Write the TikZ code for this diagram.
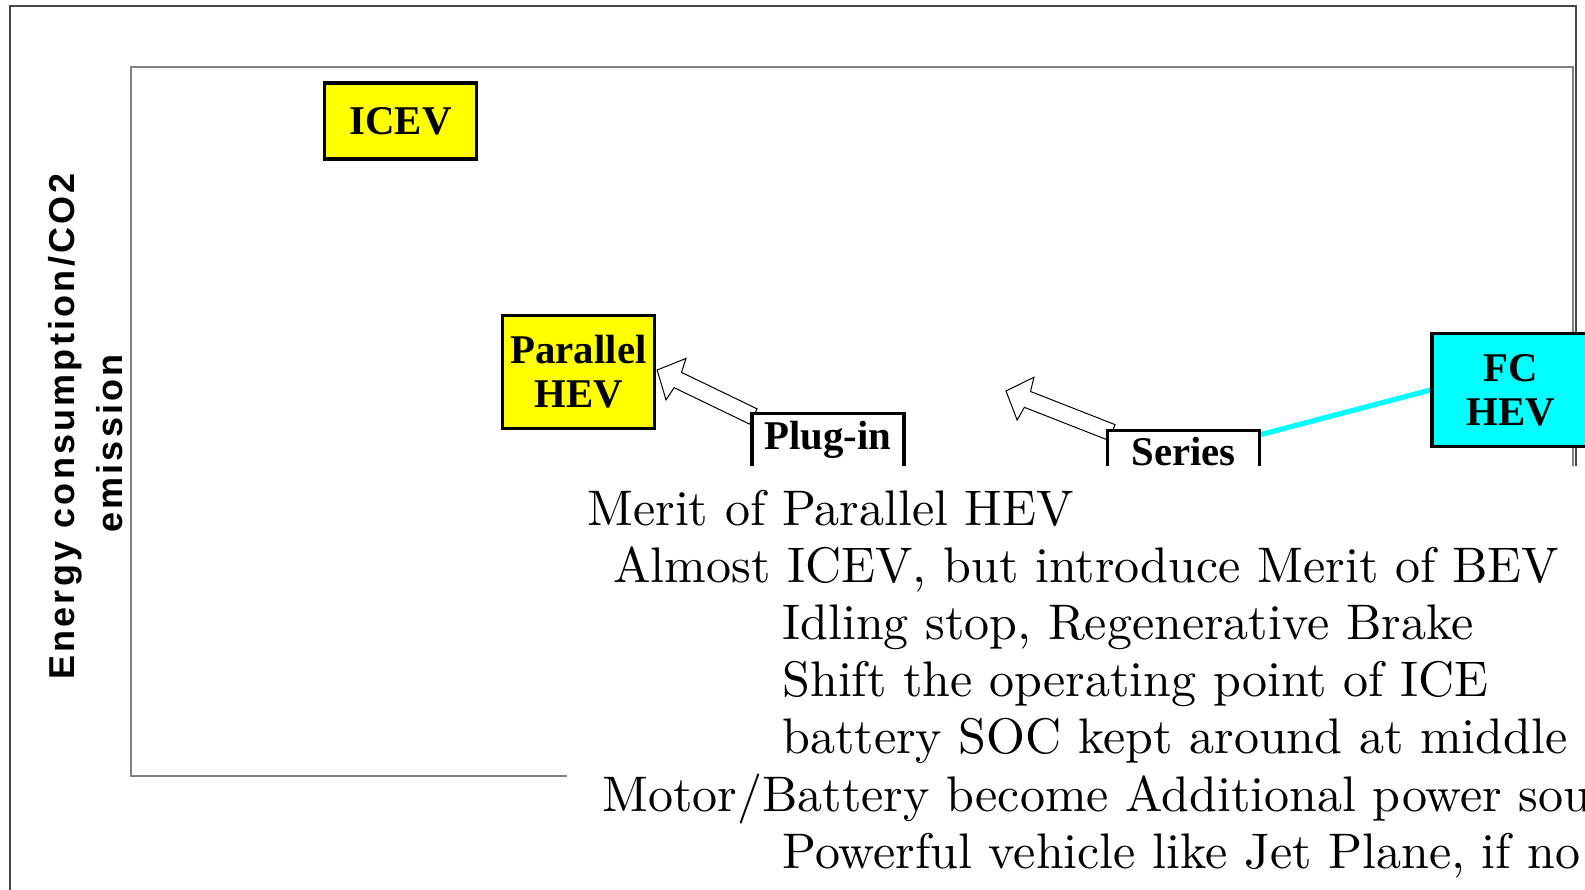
\documentclass[tikz,border=0pt]{standalone}
\usepackage{fontspec}
\usetikzlibrary{calc}
\newfontfamily\boxfont{Liberation Serif}
\newfontfamily\labfont{Liberation Sans}[LetterSpace=9]
\newfontfamily\bodyfont{lmroman10-regular.otf}
\definecolor{hevyellow}{RGB}{255,255,0}
\definecolor{hevcyan}{RGB}{0,255,255}
\definecolor{framegray}{RGB}{70,70,70}
\definecolor{plotgray}{RGB}{128,128,128}
\pgfdeclarelayer{bottom}
\pgfdeclarelayer{background}
\pgfsetlayers{bottom,background,main}
\tikzset{
  vbox/.style={draw=black, line width=1.6pt, minimum width=76pt, inner xsep=0pt,
    align=center, font=\boxfont\bfseries\fontsize{20.4}{22}\selectfont},
  openbox/.style={vbox, fill=white, anchor=north, inner ysep=4pt},
  blockarr/.style={draw=black, line width=0.5pt, fill=white, line join=miter},
  axislabel/.style={rotate=90, anchor=base, inner sep=0pt,
    font=\labfont\bfseries\fontsize{18}{20}\selectfont},
  bodyline/.style={anchor=base west, inner sep=0pt, font=\bodyfont\fontsize{25}{29}\selectfont},
  linkline/.style={draw=hevcyan, line width=2.6pt}
}
\newcommand{\blockarrow}[2]{%
  \draw[blockarr] (#1)
    -- ($($(#1)!10.5pt!(#2)$)!11.5pt!90:(#2)$)
    -- ($($(#1)!11.5pt!(#2)$)!4.25pt!90:(#2)$)
    -- ($(#2)!4.25pt!-90:(#1)$)
    -- ($(#2)!4.25pt!90:(#1)$)
    -- ($($(#1)!11.5pt!(#2)$)!4.25pt!-90:(#2)$)
    -- ($($(#1)!10.5pt!(#2)$)!11.5pt!-90:(#2)$)
    -- cycle;}
\begin{document}
\begin{tikzpicture}[x=0.5pt, y=-0.5pt]
\useasboundingbox (0,0) rectangle (1585,889);
\clip (0,0) rectangle (1585,889);
% frames
\begin{pgfonlayer}{bottom}
\draw[framegray, line width=0.75pt] (10,6) rectangle (1576,960);
\draw[plotgray, line width=1pt] (131,67) rectangle (1573,776);
\end{pgfonlayer}
% boxes
\path (400.5,121) node[vbox, fill=hevyellow, minimum height=38pt] (icev) {ICEV};
\path (578.5,372) node[vbox, fill=hevyellow, minimum height=56.5pt] (par) {Parallel\\HEV};
\path (828,411.5) node[openbox] (plug) {Plug-in\\HEV};
\path (1183.5,428.5) node[openbox, inner ysep=3.5pt] (ser) {Series\\HEV};
\path (1511,390) node[vbox, fill=hevcyan, minimum width=79pt, minimum height=56.5pt] (fc) {FC\\HEV};
% connectors (behind boxes)
\coordinate (a1tip) at ($(par.east)+(1,-2)$);
\coordinate (a1tail) at ($(plug.north west)+(3,5)$);
\coordinate (a2tip) at (1006,391);
\coordinate (a2tail) at ($(ser.north west)+(6,4)$);
\begin{pgfonlayer}{background}
\blockarrow{a1tip}{a1tail}
\blockarrow{a2tip}{a2tail}
\draw[linkline] ($(ser.north east)+(0,6)$) -- (fc.west);
\end{pgfonlayer}
% axis label
\node[axislabel] (ylab1) at (74,426.5) {Energy consumption/CO2};
\node[axislabel] (ylab2) at (122,443.5) {emission};
% text overlay
\fill[white] (567,466) rectangle (1600,900);
\node[bodyline] (l1) at (587,525) {Merit of Parallel HEV};
\node[bodyline] (l2) at (613,582) {Almost ICEV, but introduce Merit of BEV};
\node[bodyline] (l3) at (782,639) {Idling stop, Regenerative Brake};
\node[bodyline] (l4) at (782,696) {Shift the operating point of ICE};
\node[bodyline] (l5) at (782,753) {battery SOC kept around at middle p};
\node[bodyline] (l6) at (602,811) {Motor/Battery become Additional power sour};
\node[bodyline] (l7) at (782,868) {Powerful vehicle like Jet Plane, if no};
\end{tikzpicture}
\end{document}
